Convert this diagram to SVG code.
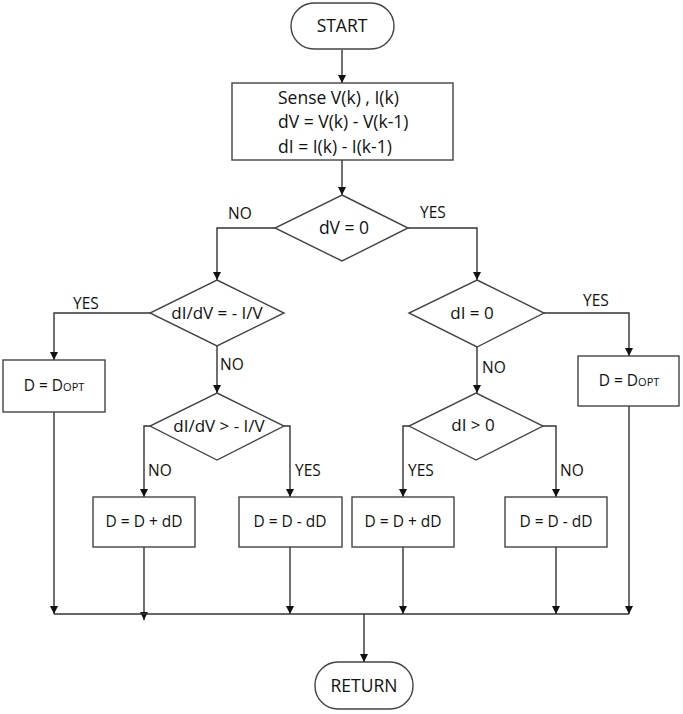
<svg xmlns="http://www.w3.org/2000/svg" width="683" height="714" viewBox="0 0 683 714">
<style>
.n{fill:#fff;stroke:#444;stroke-width:1.4}
.t{font-family:"Open Sans","Liberation Sans",sans-serif;font-size:17px;fill:#111}
.s{font-size:17.5px}
.bx{font-size:15.5px}
.c{text-anchor:middle}
.l{fill:none;stroke:#333;stroke-width:1.4}
.lb{font-family:"Open Sans","Liberation Sans",sans-serif;font-size:15.5px;fill:#111}
.sub{font-size:11px}
</style>
<defs>
<marker id="a" viewBox="0 0 8 10" refX="8" refY="5" markerWidth="8" markerHeight="10" markerUnits="userSpaceOnUse" orient="auto">
<path d="M0,1 L8,5 L0,9 Z" fill="#111"/>
</marker>
</defs>
<g id="connectors" class="l">
<path d="M342,50 V83" marker-end="url(#a)"/>
<path d="M342,160 V195" marker-end="url(#a)"/>
<path d="M275,228 H217 V280" marker-end="url(#a)"/>
<path d="M408,228 H477 V280" marker-end="url(#a)"/>
<path d="M150,313 H54 V360" marker-end="url(#a)"/>
<path d="M217,346 V393" marker-end="url(#a)"/>
<path d="M150,426 H144 V497" marker-end="url(#a)"/>
<path d="M284,426 H290 V497" marker-end="url(#a)"/>
<path d="M544,313 H629 V356" marker-end="url(#a)"/>
<path d="M477,347 V393" marker-end="url(#a)"/>
<path d="M409,426 H403 V497" marker-end="url(#a)"/>
<path d="M543,426 H556 V497" marker-end="url(#a)"/>
<path d="M54,412 V614" marker-end="url(#a)"/>
<path d="M144,547 V620" marker-end="url(#a)"/>
<path d="M290,547 V614" marker-end="url(#a)"/>
<path d="M403,547 V614" marker-end="url(#a)"/>
<path d="M556,547 V614" marker-end="url(#a)"/>
<path d="M629,406 V614" marker-end="url(#a)"/>
<path d="M54,614 H629"/>
<path d="M364,614 V662" marker-end="url(#a)"/>
</g>
<g id="labels" class="lb">
<text x="228" y="219">NO</text>
<text x="420" y="218">YES</text>
<text x="73" y="309">YES</text>
<text x="220" y="370">NO</text>
<text x="148" y="476">NO</text>
<text x="295" y="476">YES</text>
<text x="583" y="306">YES</text>
<text x="482" y="373">NO</text>
<text x="408" y="476">YES</text>
<text x="560" y="476">NO</text>
</g>
<g id="start">
<rect class="n" x="291" y="3" width="103" height="46" rx="23"/>
<text class="t s c" x="342" y="32">START</text>
</g>
<g id="sense">
<rect class="n" x="232" y="83" width="221" height="77"/>
<text class="t s" x="278" y="104">Sense V(k) , I(k)</text>
<text class="t s" x="278" y="128">dV = V(k) - V(k-1)</text>
<text class="t s" x="278" y="153">dI = I(k) - I(k-1)</text>
</g>
<g id="d1">
<polygon class="n" points="342,195 408,228 342,261 275,228"/>
<text class="t s c" x="344" y="234">dV = 0</text>
</g>
<g id="d2">
<polygon class="n" points="217,280 284,313 217,346 150,313"/>
<text class="t c" x="217" y="319">dI/dV = - I/V</text>
</g>
<g id="d3">
<polygon class="n" points="217,393 284,426 217,460 150,426"/>
<text class="t c" x="219" y="432">dI/dV &gt; - I/V</text>
</g>
<g id="d4">
<polygon class="n" points="477,280 544,313 477,347 409,313"/>
<text class="t c" x="472" y="319">dI = 0</text>
</g>
<g id="d5">
<polygon class="n" points="476,393 543,426 476,460 409,426"/>
<text class="t c" x="473" y="431">dI &gt; 0</text>
</g>
<g id="b1">
<rect class="n" x="3" y="360" width="102" height="52"/>
<text class="t bx c" x="54" y="391">D = D<tspan class="sub">OPT</tspan></text>
</g>
<g id="b2">
<rect class="n" x="578" y="356" width="101" height="50"/>
<text class="t bx c" x="629" y="386">D = D<tspan class="sub">OPT</tspan></text>
</g>
<g id="b3">
<rect class="n" x="93" y="497" width="102" height="50"/>
<text class="t bx c" x="144" y="527">D = D + dD</text>
</g>
<g id="b4">
<rect class="n" x="239" y="497" width="103" height="50"/>
<text class="t bx c" x="290" y="527">D = D - dD</text>
</g>
<g id="b5">
<rect class="n" x="352" y="497" width="102" height="50"/>
<text class="t bx c" x="403" y="527">D = D + dD</text>
</g>
<g id="b6">
<rect class="n" x="505" y="497" width="102" height="50"/>
<text class="t bx c" x="556" y="527">D = D - dD</text>
</g>
<g id="return">
<rect class="n" x="315" y="662" width="98" height="47" rx="23"/>
<text class="t s c" x="364" y="692">RETURN</text>
</g>
</svg>
